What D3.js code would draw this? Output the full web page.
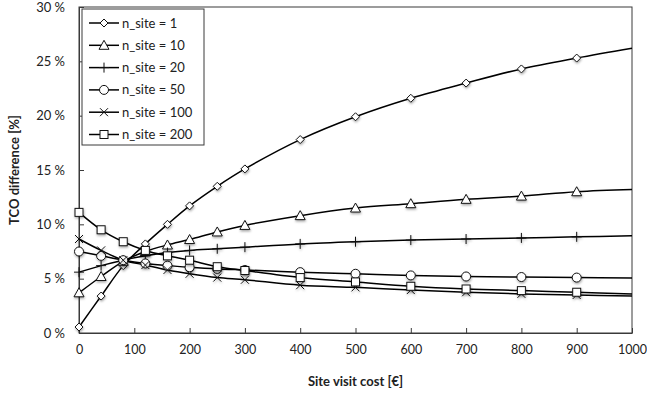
<!DOCTYPE html>
<html>
<head>
<meta charset="utf-8">
<script src="https://cdn.jsdelivr.net/npm/d3@7"></script>
<style>
  body { margin: 0; background: #fff; }
  text { font-family: Lato, "Open Sans", sans-serif; fill: #222; }
</style>
</head>
<body>
<script>
const visitCost = [0, 40, 80, 120, 160, 200, 250, 300, 400, 500, 600, 700, 800, 900, 1000];
const site1   = [0.55, 3.4, 6.2, 8.2, 10.0, 11.7, 13.5, 15.1, 17.8, 19.9, 21.6, 23.0, 24.3, 25.3, 26.2];
const site10  = [3.7, 5.2, 6.6, 7.5, 8.1, 8.6, 9.3, 9.9, 10.8, 11.5, 11.9, 12.3, 12.6, 13.0, 13.2];
const site20  = [5.6, 6.2, 6.7, 7.1, 7.4, 7.6, 7.75, 7.9, 8.2, 8.4, 8.55, 8.65, 8.75, 8.85, 8.95];
const site50  = [7.5, 7.1, 6.7, 6.4, 6.2, 6.05, 5.9, 5.8, 5.6, 5.45, 5.3, 5.2, 5.15, 5.1, 5.05];
const site100 = [8.65, 7.6, 6.7, 6.25, 5.8, 5.45, 5.1, 4.9, 4.4, 4.2, 3.95, 3.75, 3.6, 3.5, 3.4];
const site200 = [11.1, 9.5, 8.4, 7.6, 7.1, 6.7, 6.1, 5.75, 5.1, 4.7, 4.3, 4.05, 3.9, 3.75, 3.6];
const seriesNames = ['n_site = 1', 'n_site = 10', 'n_site = 20', 'n_site = 50', 'n_site = 100', 'n_site = 200'];
const markerTypes = ['diamond', 'triangle', 'plus', 'circle', 'cross', 'square'];
const xTicks = [0, 100, 200, 300, 400, 500, 600, 700, 800, 900, 1000];
const yTicks = [0, 5, 10, 15, 20, 25, 30];

const series = [site1, site10, site20, site50, site100, site200].map((vals, i) => ({
  name: seriesNames[i],
  marker: markerTypes[i],
  points: vals.map((v, j) => ({ x: visitCost[j], y: v }))
}));

const W = 647, H = 394;
const margin = { top: 7, right: 15, bottom: 61, left: 79 };
const width = W - margin.left - margin.right;
const height = H - margin.top - margin.bottom;

const svg = d3.select('body').append('svg')
  .attr('width', W)
  .attr('height', H);

const defs = svg.append('defs');
const shadow = defs.append('filter').attr('id', 'shadow')
  .attr('x', '-50%').attr('y', '-50%').attr('width', '200%').attr('height', '200%');
shadow.append('feDropShadow')
  .attr('dx', 0.5).attr('dy', 1.5).attr('stdDeviation', 1)
  .attr('flood-color', '#000').attr('flood-opacity', 0.35);

const g = svg.append('g')
  .attr('transform', `translate(${margin.left},${margin.top})`);

const xScale = d3.scaleLinear().domain([0, 1000]).range([0, width]);
const yScale = d3.scaleLinear().domain([0, 30]).range([height, 0]);

// frame
g.append('rect')
  .attr('width', width)
  .attr('height', height)
  .attr('fill', 'none')
  .attr('stroke', '#3a3a3a')
  .attr('stroke-width', 1);

const xAxis = d3.axisBottom(xScale).tickValues(xTicks).tickSizeInner(-5).tickSizeOuter(0)
  .tickPadding(12).tickFormat(d3.format('d'));
const yAxis = d3.axisLeft(yScale).tickValues(yTicks).tickSizeInner(-5).tickSizeOuter(0)
  .tickPadding(14).tickFormat(d => d + ' %');

g.append('g').attr('transform', `translate(0,${height})`).call(xAxis)
  .call(s => s.select('.domain').attr('stroke', '#3a3a3a'))
  .call(s => s.selectAll('.tick line').attr('stroke', '#3a3a3a'))
  .call(s => s.selectAll('.tick text').attr('font-size', 12.5).attr('fill', '#222'));

g.append('g').call(yAxis)
  .call(s => s.select('.domain').attr('stroke', '#3a3a3a'))
  .call(s => s.selectAll('.tick line').attr('stroke', '#3a3a3a'))
  .call(s => s.selectAll('.tick text').attr('font-size', 13).attr('fill', '#222'));

svg.selectAll('.tick text').style('font-family', 'Lato, "Open Sans", sans-serif');

const line = d3.line()
  .x(d => xScale(d.x))
  .y(d => yScale(d.y))
  .curve(d3.curveCatmullRom.alpha(0.5));

function drawMarker(sel, type) {
  const s = 4;
  if (type === 'diamond') {
    sel.append('path').attr('d', `M0,${-s}L${s},0L0,${s}L${-s},0Z`)
      .attr('fill', '#fff').attr('stroke', '#111').attr('stroke-width', 1);
  } else if (type === 'triangle') {
    sel.append('path').attr('d', `M0,${-s - 1}L${s + 1},${s}L${-s - 1},${s}Z`)
      .attr('fill', '#fff').attr('stroke', '#111').attr('stroke-width', 1);
  } else if (type === 'plus') {
    sel.append('path').attr('d', `M0,${-s - 1}V${s + 1}M${-s - 1},0H${s + 1}`)
      .attr('stroke', '#111').attr('stroke-width', 1);
  } else if (type === 'circle') {
    sel.append('circle').attr('r', s + 0.5)
      .attr('fill', '#fff').attr('stroke', '#111').attr('stroke-width', 1);
  } else if (type === 'cross') {
    sel.append('path').attr('d', `M${-s},${-s}L${s},${s}M${-s},${s}L${s},${-s}`)
      .attr('stroke', '#111').attr('stroke-width', 1);
  } else if (type === 'square') {
    sel.append('rect').attr('x', -s).attr('y', -s).attr('width', 2 * s).attr('height', 2 * s)
      .attr('fill', '#fff').attr('stroke', '#111').attr('stroke-width', 1);
  }
}

series.forEach(sr => {
  g.append('path')
    .datum(sr.points)
    .attr('d', line)
    .attr('fill', 'none')
    .attr('stroke', '#000')
    .attr('stroke-width', 1.5);
});

series.forEach(sr => {
  g.selectAll(null)
    .data(sr.points.filter(p => p.x < 1000))
    .enter()
    .append('g')
    .attr('transform', d => `translate(${xScale(d.x)},${yScale(d.y)})`)
    .attr('filter', 'url(#shadow)')
    .each(function () { drawMarker(d3.select(this), sr.marker); });
});

// legend
const legend = svg.append('g').attr('transform', 'translate(82,9)');
legend.append('rect')
  .attr('width', 122).attr('height', 136)
  .attr('fill', '#fff').attr('stroke', '#3a3a3a').attr('stroke-width', 1);

series.forEach((sr, i) => {
  const row = legend.append('g').attr('transform', `translate(0,${14 + i * 22.3})`);
  row.append('line')
    .attr('x1', 7).attr('x2', 37).attr('y1', 0).attr('y2', 0)
    .attr('stroke', '#000').attr('stroke-width', 1.5);
  const m = row.append('g').attr('transform', 'translate(22,0)');
  drawMarker(m, sr.marker);
  row.append('text')
    .attr('x', 40).attr('y', 0)
    .attr('dy', '0.35em')
    .attr('font-size', 13)
    .text(sr.name);
});

svg.append('text')
  .attr('x', margin.left + width / 2)
  .attr('y', 386)
  .attr('text-anchor', 'middle')
  .attr('font-size', 13)
  .attr('font-weight', 'bold')
  .text('Site visit cost [€]');

svg.append('text')
  .attr('transform', `translate(19,${margin.top + height / 2}) rotate(-90)`)
  .attr('text-anchor', 'middle')
  .attr('font-size', 13)
  .attr('font-weight', 'bold')
  .text('TCO difference [%]');
</script>
</body>
</html>
